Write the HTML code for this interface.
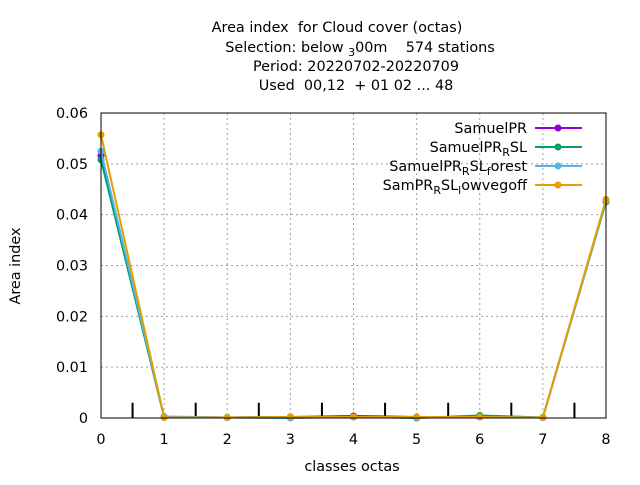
<!DOCTYPE html>
<html><head><meta charset="utf-8"><style>
body{margin:0;background:#fff}
text{font-family:"DejaVu Sans","Liberation Sans",sans-serif;fill:#000;white-space:pre}
</style></head><body>
<svg id="c" width="640" height="480" xmlns="http://www.w3.org/2000/svg">
<g font-size="14.4" text-anchor="middle">
<text x="337" y="32">Area index  for Cloud cover (octas)</text>
<text x="360" y="52">Selection: below <tspan font-size="11" dy="4">3</tspan><tspan dy="-4">00m    574 stations</tspan></text>
<text x="356" y="71">Period: 20220702-20220709</text>
<text x="356" y="90">Used  00,12  + 01 02 ... 48</text>
</g>
<text x="352" y="471" font-size="14.4" text-anchor="middle">classes octas</text>
<text transform="translate(20,266) rotate(-90)" font-size="14.4" text-anchor="middle">Area index</text>
<g id="grid"></g><g id="ticks"></g><g id="series"></g>
<rect x="101" y="113" width="505" height="305" fill="none" stroke="#000"/>
<g id="legend"></g>
</svg>
<script>
const xCats=[0,1,2,3,4,5,6,7,8];
const yTicks=[0,0.01,0.02,0.03,0.04,0.05,0.06];
const yLabels=["0","0.01","0.02","0.03","0.04","0.05","0.06"];
const names=["SamuelPR","SamuelPR_RSL","SamuelPR_RSL_forest","SamPR_RSL_lowvegoff"];
const colors=["#9400d3","#009e73","#56b4e9","#e69f00"];
const s0=[0.0516,0.0002,0.0001,0.0002,0.0004,0.0002,0.0002,0.0001,0.0428];
const s1=[0.0508,0.0002,0.0001,0.0002,0.0002,0.0000,0.0005,0.0001,0.0425];
const s2=[0.0525,0.0003,0.0001,0.0000,0.0002,0.0001,0.0002,0.0001,0.0427];
const s3=[0.0557,0.0001,0.0001,0.0002,0.0002,0.0002,0.0002,0.0001,0.0430];
const impX=[0.5,1.5,2.5,3.5,4.5,5.5,6.5,7.5];
const impY=[0.003,0.003,0.003,0.003,0.003,0.003,0.003,0.003];
const series=[s0,s1,s2,s3];
const X=v=>101+v*505/8, Y=v=>418-v*305/0.06;
const NS="http://www.w3.org/2000/svg";
function mk(p,t,a){const e=document.createElementNS(NS,t);for(const k in a)e.setAttribute(k,a[k]);p.appendChild(e);return e;}
const g=document.getElementById('grid'),tk=document.getElementById('ticks'),sg=document.getElementById('series'),lg=document.getElementById('legend');
xCats.forEach(c=>{
 if(c>0&&c<8){const l=mk(g,'line',{x1:X(c),x2:X(c),y1:113,y2:418,stroke:'#a0a0a0','stroke-dasharray':'2,3'});
 
 }
 const t=mk(tk,'text',{x:X(c),y:444,'font-size':14.4,'text-anchor':'middle'});t.textContent=c;
 
 
});
yTicks.forEach((v,i)=>{
 if(i>0&&i<yTicks.length-1){const l=mk(g,'line',{x1:101,x2:606,y1:Y(v),y2:Y(v),stroke:'#a0a0a0','stroke-dasharray':'2,3'});
 
 }
 const t=mk(tk,'text',{x:88,y:Y(v)+5,'font-size':14.4,'text-anchor':'end'});t.textContent=yLabels[i];
 
 
});
impX.forEach((x,i)=>{const l=mk(sg,'line',{x1:X(x),x2:X(x),y1:Y(0),y2:Y(impY[i]),stroke:'#000','stroke-width':2});
 
 });
series.forEach((s,i)=>{
 const p=mk(sg,'polyline',{points:s.map((v,j)=>X(xCats[j])+','+Y(v)).join(' '),fill:'none',stroke:colors[i],'stroke-width':2});
 
 
 s.forEach((v,j)=>{const c=mk(sg,'circle',{cx:X(xCats[j]),cy:Y(v),r:3.5,fill:colors[i]});
 
 });
});
const lab=[['SamuelPR'],['SamuelPR','R','SL'],['SamuelPR','R','SL','f','orest'],['SamPR','R','SL','l','owvegoff']];
lab.forEach((parts,i)=>{
 const y=128+i*19;
 const t=mk(lg,'text',{x:527,y:y+5,'font-size':14.4,'text-anchor':'end'});
 parts.forEach((p,k)=>{const ts=mk(t,'tspan',{});ts.textContent=p;
  if(k%2==1){ts.setAttribute('dy',4);ts.setAttribute('font-size',11);}else if(k>0){ts.setAttribute('dy',-4);}});
 
 
 const l=mk(lg,'line',{x1:535,x2:582,y1:y,y2:y,stroke:colors[i],'stroke-width':2});
 
 
 mk(lg,'circle',{cx:558,cy:y,r:3.5,fill:colors[i]});
});
</script>
</body></html>
